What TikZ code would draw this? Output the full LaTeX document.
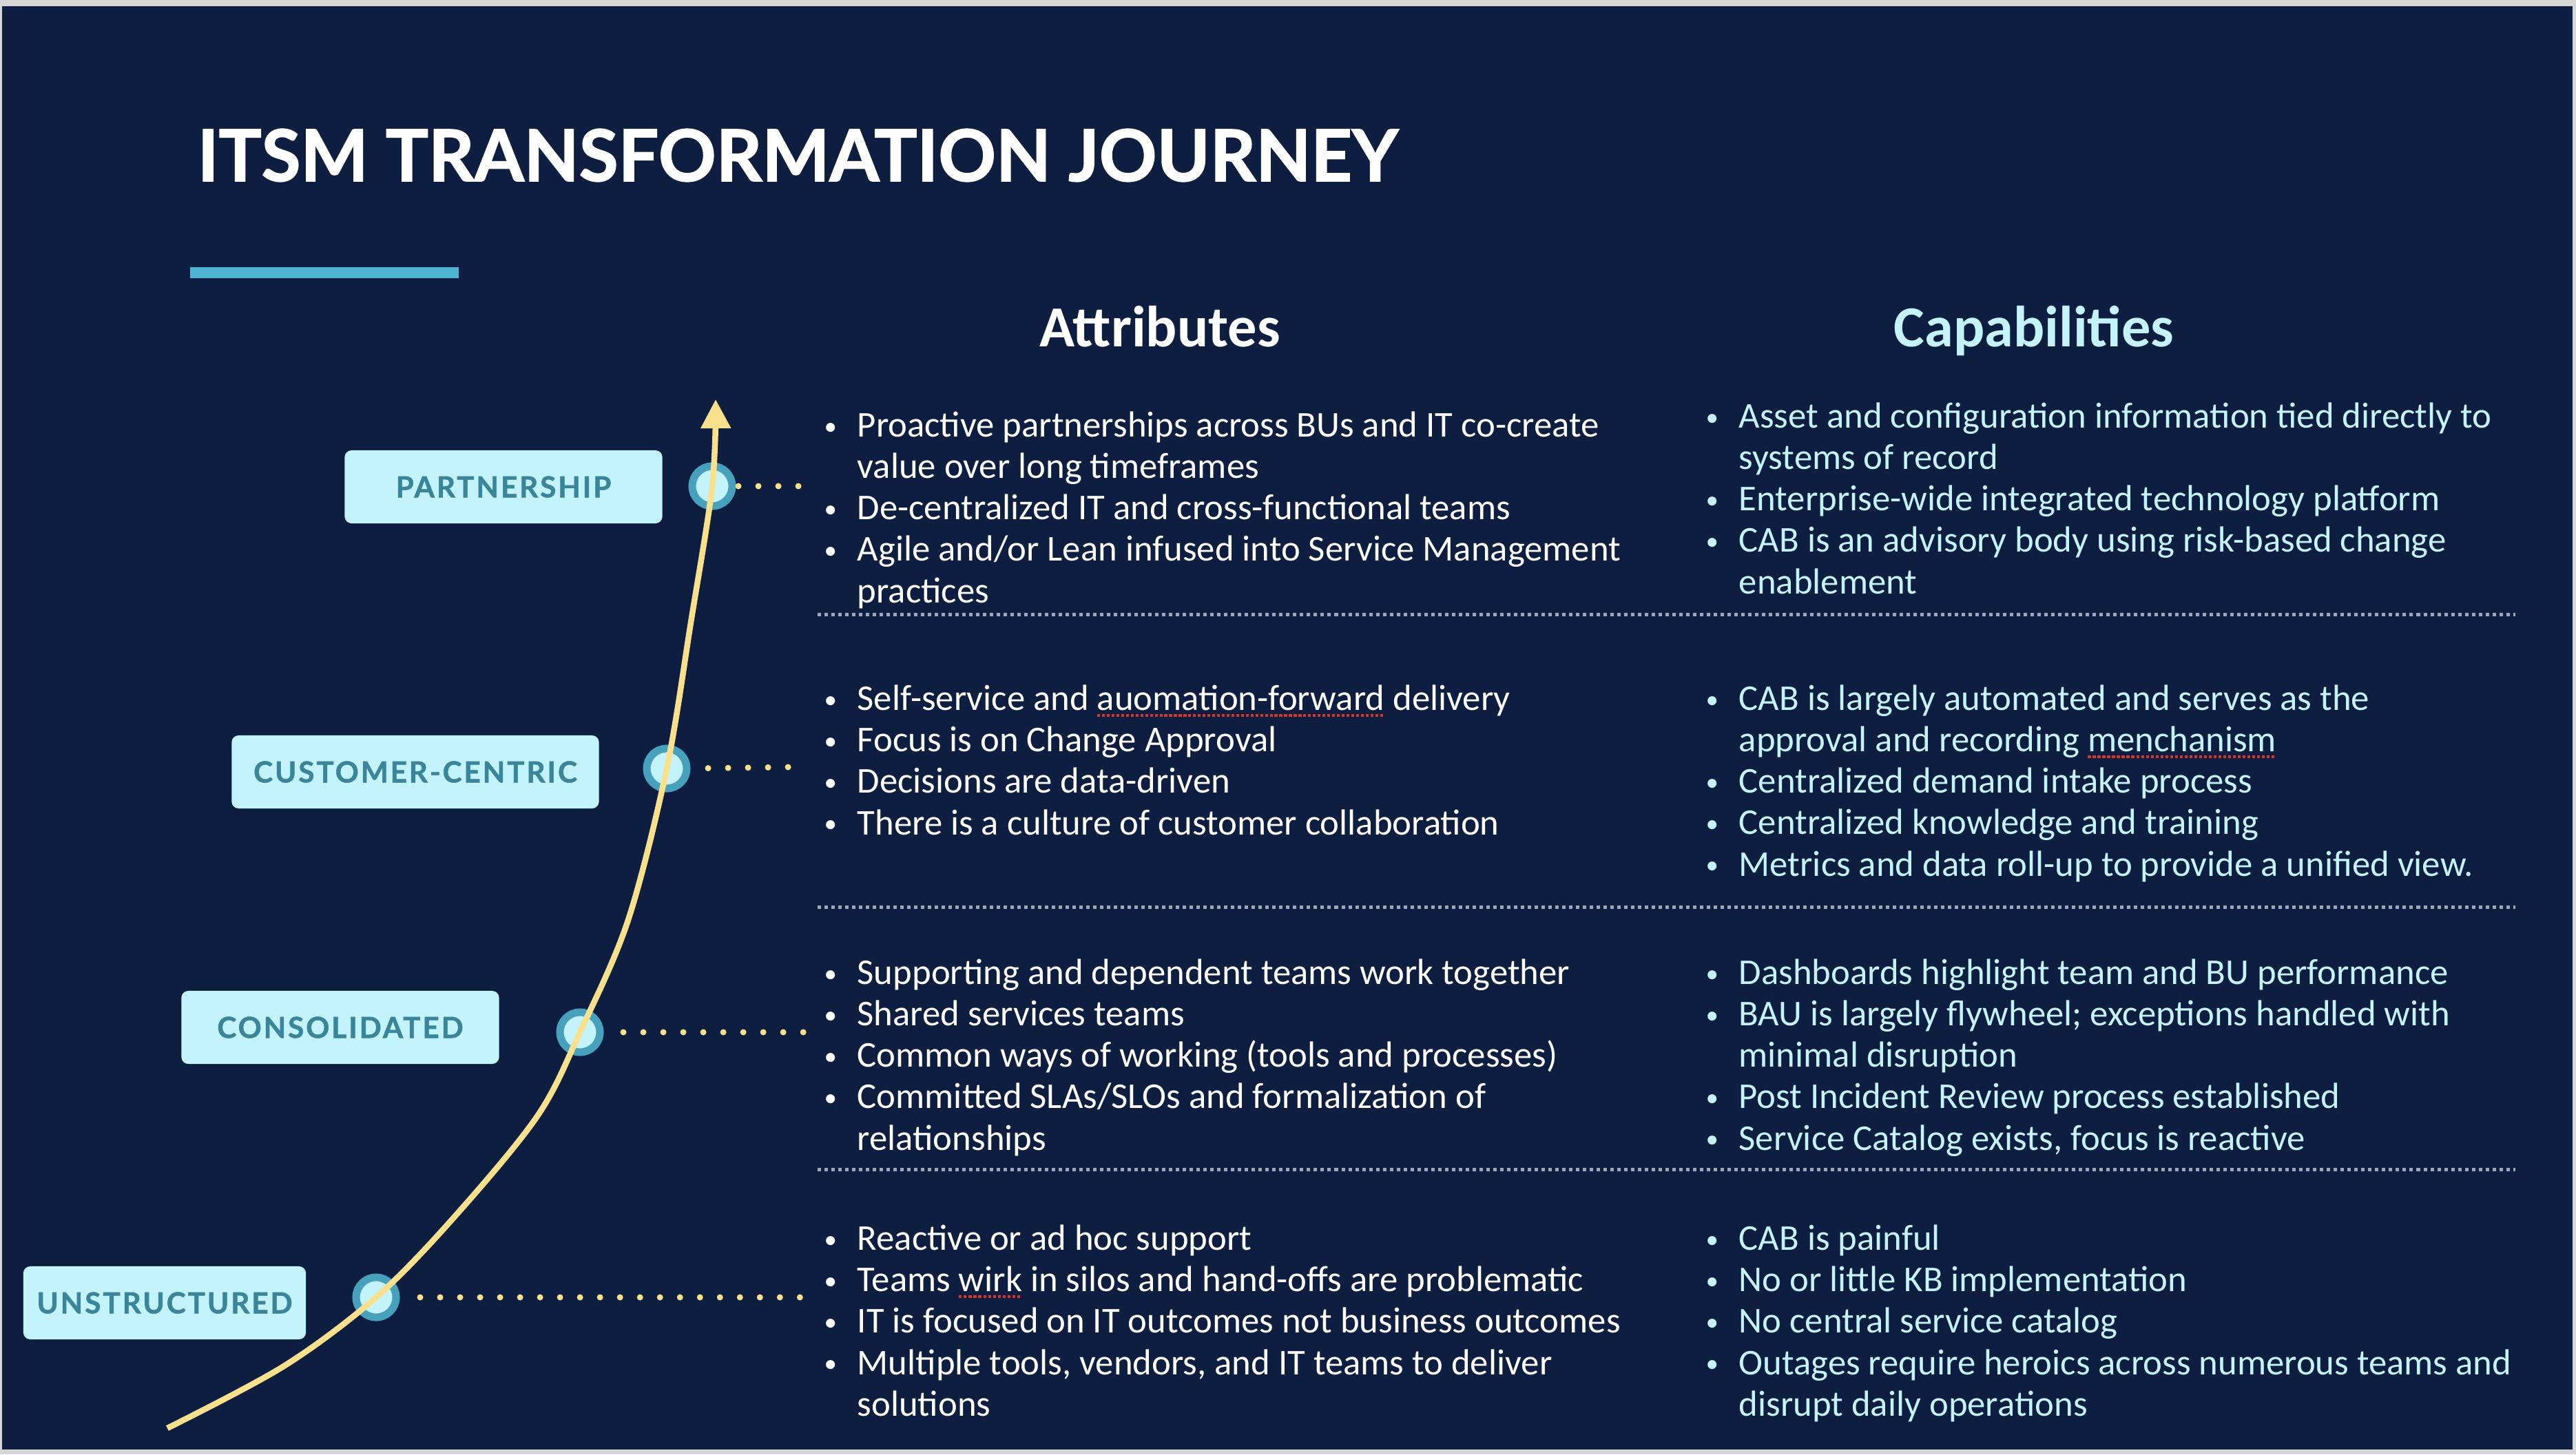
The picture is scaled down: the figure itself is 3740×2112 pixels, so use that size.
\documentclass[tikz,border=0pt]{standalone}
\usepackage{fontspec}
\usepackage{graphicx}
\usetikzlibrary{positioning,arrows.meta}
\setmainfont{Carlito}
\newfontfamily\tagfont[LetterSpace=7,FakeBold=1.2]{Lato}
\newfontfamily\titlefont[FakeBold=1.5]{Lato}

\definecolor{navy}{HTML}{0E1E40}
\definecolor{framegray}{HTML}{D6D6D6}
\definecolor{bar}{HTML}{4FB4D4}
\definecolor{tagbg}{HTML}{C3F3FD}
\definecolor{tagtext}{HTML}{3A8599}
\definecolor{ringteal}{HTML}{47A1BD}
\definecolor{gold}{HTML}{F9E08C}
\definecolor{capcyan}{HTML}{C4F3FB}
\definecolor{sepgray}{HTML}{A0A7B8}
\definecolor{typored}{HTML}{D9372B}

\newcommand{\bu}{\makebox[0.48cm][l]{\raisebox{0.15ex}{\scalebox{0.7}{\textbullet}}}}
\newcommand{\ind}{\hspace*{0.48cm}}
\newsavebox{\typobox}
\newcommand{\typo}[1]{\sbox{\typobox}{#1}\rlap{\textcolor{typored}{\raisebox{-0.35ex}{\hbox to \wd\typobox{\xleaders\hbox{\rule{0.08em}{0.08em}\kern0.05em}\hfill}}}}\usebox{\typobox}}

\tikzset{
  stage/.style={fill=tagbg, rounded corners=0.1cm, minimum height=1.06cm, text=tagtext,
    font=\tagfont\bfseries\fontsize{12}{13}\selectfont},
  ring/.style={circle, fill=tagbg, draw=ringteal, line width=0.11cm, minimum size=0.58cm, outer sep=0pt},
  leader/.style={gold, line width=0.09cm, line cap=round, dash pattern=on 0pt off 0.29cm},
  journey/.style={gold, line width=0.085cm, -{Triangle[length=0.42cm,width=0.42cm]}},
  sep/.style={sepgray, line width=0.05cm, dash pattern=on 0.05cm off 0.05cm},
  head/.style={anchor=base, font=\bfseries\fontsize{24}{28}\selectfont},
  % base west of a multi-line block is the base of its last line
  txt/.style={anchor=base west, align=left, font=\fontsize{15}{17.07}\selectfont},
}

\begin{document}
\begin{tikzpicture}[x=0.01cm,y=-0.01cm,every node/.style={inner sep=0pt}]
\useasboundingbox (0,0) rectangle (3740,2112);
\fill[framegray] (0,0) rectangle (3740,2112);
\fill[navy] (3,9) rectangle (3735,2105);

% title and bar
\node[anchor=base west, text=white, font=\titlefont\bfseries\fontsize{29.5}{35}\selectfont] (title) at (286,263) {ITSM TRANSFORMATION JOURNEY};
\fill[bar] (276,388) rectangle (666,404);

% column heads
\node[head, text=white] (attr) at (1684,503) {Attributes};
\node[head, text=capcyan] (capa) at (2953,503) {Capabilities};

% separators
\foreach \y in {892,1317,1698}
  \draw[sep] (1187,\y) -- (3652,\y);

% stages
\node[ring] (r1) at (546,1884) {};
\node[ring] (r2) at (842,1499) {};
\node[ring] (r3) at (968,1116) {};
\node[ring] (r4) at (1034,706) {};
\node[stage, minimum width=4.10cm] (s1) at (239,1892) {UNSTRUCTURED};
\node[stage, minimum width=4.61cm] (s2) at (494,1492) {CONSOLIDATED};
\node[stage, minimum width=5.33cm] (s3) at (603,1121) {CUSTOMER-CENTRIC};
\node[stage, minimum width=4.61cm] (s4) at (731,707) {PARTNERSHIP};

% journey curve
\coordinate (low) at (243,2074);
\coordinate (top) at (1039,580);
\draw[journey] plot[smooth, tension=0.55] coordinates {(low) (412,1984) (r1) (659,1768) (780,1621) (r2) (912,1336) (r3) (1003,904) (r4) (top)};

% leaders
\coordinate (d1) at (1164,1884);
\coordinate (d2) at (1168,1499);
\coordinate (d3) at (1147,1114);
\coordinate (d4) at (1162,706);
\draw[leader, shorten <=0.35cm] (r1.east) -- (d1);
\draw[leader, shorten <=0.34cm] (r2.east) -- (d2);
\draw[leader, shorten <=0.31cm] (r3.east) -- (d3);
\draw[leader, shorten <=0.09cm] (r4.east) -- (d4);

% partnership
\node[txt, text=white] (a4) at (1196,875) {\bu Proactive partnerships across BUs and IT co-create\\
\ind value over long timeframes\\
\bu De-centralized IT and cross-functional teams\\
\bu Agile and/or Lean infused into Service Management\\
\ind practices};
\node[txt, text=capcyan] (c4) at (2476,862) {\bu Asset and configuration information tied directly to\\
\ind systems of record\\
\bu Enterprise-wide integrated technology platform\\
\bu CAB is an advisory body using risk-based change\\
\ind enablement};

% customer-centric
\node[txt, text=white] (a3) at (1196,1212) {\bu Self-service and \typo{auomation-forward} delivery\\
\bu Focus is on Change Approval\\
\bu Decisions are data-driven\\
\bu There is a culture of customer collaboration};
\node[txt, text=capcyan] (c3) at (2476,1272) {\bu CAB is largely automated and serves as the\\
\ind approval and recording \typo{menchanism}\\
\bu Centralized demand intake process\\
\bu Centralized knowledge and training\\
\bu Metrics and data roll-up to provide a unified view.};

% consolidated
\node[txt, text=white] (a2) at (1196,1670) {\bu Supporting and dependent teams work together\\
\bu Shared services teams\\
\bu Common ways of working (tools and processes)\\
\bu Committed SLAs/SLOs and formalization of\\
\ind relationships};
\node[txt, text=capcyan] (c2) at (2476,1670) {\bu Dashboards highlight team and BU performance\\
\bu BAU is largely flywheel; exceptions handled with\\
\ind minimal disruption\\
\bu Post Incident Review process established\\
\bu Service Catalog exists, focus is reactive};

% unstructured
\node[txt, text=white] (a1) at (1196,2056) {\bu Reactive or ad hoc support\\
\bu Teams \typo{wirk} in silos and hand-offs are problematic\\
\bu IT is focused on IT outcomes not business outcomes\\
\bu Multiple tools, vendors, and IT teams to deliver\\
\ind solutions};
\node[txt, text=capcyan] (c1) at (2476,2056) {\bu CAB is painful\\
\bu No or little KB implementation\\
\bu No central service catalog\\
\bu Outages require heroics across numerous teams and\\
\ind disrupt daily operations};
\end{tikzpicture}
\end{document}
